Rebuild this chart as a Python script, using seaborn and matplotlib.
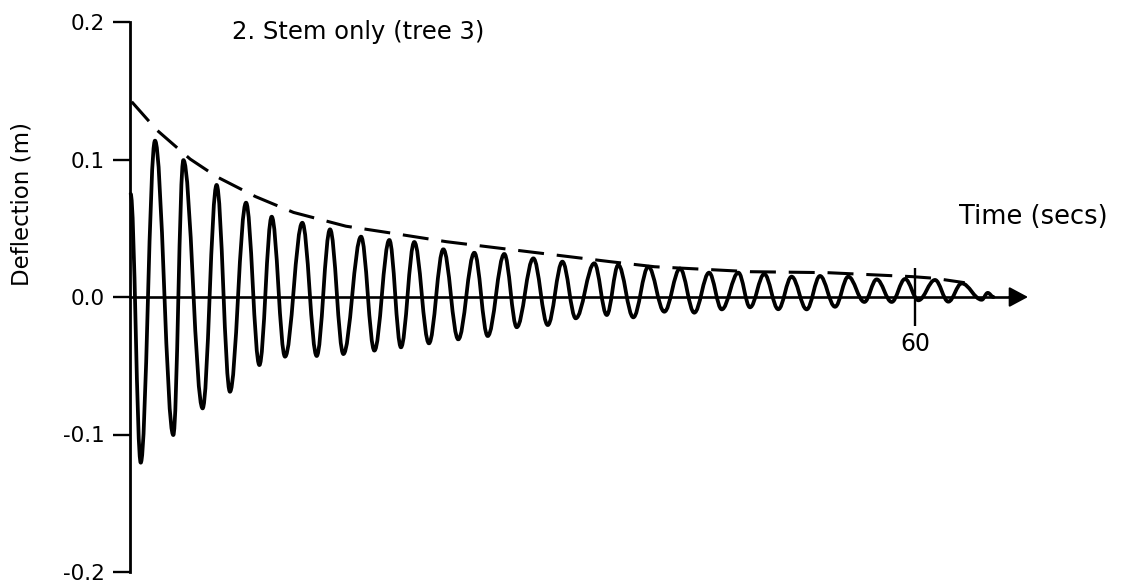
import matplotlib
matplotlib.use("Agg")
import numpy as np
import pandas as pd
import matplotlib.pyplot as plt
import seaborn as sns
from matplotlib.path import Path
from matplotlib.patches import PathPatch

# Free-vibration record: successive turning points of the stem deflection
ext_time = [0.05, 0.82, 1.91, 3.31, 4.08, 5.55, 6.62, 7.64, 8.87, 9.89, 10.83,
            11.85, 13.17, 14.27, 15.29, 16.31, 17.66, 18.68, 19.82, 20.71,
            21.73, 22.85, 23.95, 25.09, 26.32, 27.34, 28.61, 29.56, 30.83,
            31.93, 33.05, 34.07, 35.49, 36.44, 37.32, 38.47, 39.62, 40.84,
            42.04, 43.13, 44.26, 45.23, 46.5, 47.39, 48.48, 49.55, 50.57,
            51.72, 52.74, 53.89, 54.9, 56.13, 57.07, 58.22, 59.24, 60.26,
            61.53, 62.55, 63.57, 65.1, 65.56, 66.0]
ext_defl = [0.075, -0.1205, 0.1137, -0.1004, 0.0996, -0.081, 0.0815, -0.0689,
            0.0686, -0.0495, 0.0584, -0.0434, 0.054, -0.0429, 0.0492, -0.0415,
            0.0439, -0.039, 0.0415, -0.0366, 0.04, -0.0337, 0.0347, -0.0308,
            0.0322, -0.0284, 0.0313, -0.022, 0.0281, -0.0204, 0.0257, -0.0155,
            0.0245, -0.0131, 0.0233, -0.0148, 0.022, -0.0107, 0.0207, -0.0114,
            0.0177, -0.009, 0.0177, -0.0075, 0.0167, -0.0089, 0.0148, -0.009,
            0.0153, -0.0071, 0.0148, -0.0036, 0.0128, -0.0036, 0.0131, -0.0024,
            0.0124, -0.0034, 0.0099, -0.002, 0.003, 0.0]

# Decay envelope (dashed)
env_time = [0.13, 2.04, 4.6, 6.62, 9.6, 12.5, 16.5, 20.1, 24.2, 29.8, 36.7,
            40.1, 47.4, 53.3, 59.8, 61.5, 63.8]
env_defl = [0.142, 0.1215, 0.1003, 0.0875, 0.073, 0.0615, 0.0515, 0.0463,
            0.0402, 0.0337, 0.0257, 0.022, 0.0184, 0.0177, 0.0148, 0.0136,
            0.0104]

y_ticks = [0.2, 0.1, 0.0, -0.1, -0.2]
y_tick_labels = ["0.2", "0.1", "0.0", "-0.1", "-0.2"]
x_ticks = [60]
x_tick_labels = ["60"]

title_text = "2. Stem only (tree 3)"
x_label = "Time (secs)"
y_label = "Deflection (m)"

sns.set_style("ticks")
plt.rcParams["font.family"] = ["DejaVu Sans"]

W, H = 1145, 583
fig = plt.figure(figsize=(W / 100, H / 100), dpi=100)
ax = fig.add_axes([0, 0, 1, 1])
ax.patch.set_alpha(0)
ax.set_xlim(-9.937, 77.58)
ax.set_ylim(-0.208, 0.216)

# Envelope
env = pd.DataFrame({"time": env_time, "defl": env_defl})
sns.lineplot(data=env, x="time", y="defl", ax=ax, color="black",
             linewidth=2.2, sort=False)
ax.lines[-1].set_dashes((8.5, 4.2))

# Oscillation: smooth half-waves joining consecutive turning points
k = 0.37
verts = [(ext_time[0], ext_defl[0])]
codes = [Path.MOVETO]
for i in range(len(ext_time) - 1):
    t0, v0 = ext_time[i], ext_defl[i]
    t1, v1 = ext_time[i + 1], ext_defl[i + 1]
    dt = t1 - t0
    verts += [(t0 + k * dt, v0), (t1 - k * dt, v1), (t1, v1)]
    codes += [Path.CURVE4] * 3
ax.add_patch(PathPatch(Path(verts, codes), fill=False, edgecolor="black",
                       linewidth=2.7, joinstyle="round", capstyle="round"))

# Axes drawn through the origin
for s in ("top", "right"):
    ax.spines[s].set_visible(False)
ax.spines["left"].set_position(("data", 0))
ax.spines["left"].set_bounds(-0.2, 0.2)
ax.spines["left"].set_linewidth(2.0)
ax.spines["bottom"].set_position(("data", 0))
ax.spines["bottom"].set_bounds(0, 67.4)
ax.spines["bottom"].set_linewidth(1.9)
for s in ("left", "bottom"):
    ax.spines[s].set_color("black")

ax.set_yticks(y_ticks)
ax.set_yticklabels(y_tick_labels)
ax.set_xticks(x_ticks)
ax.set_xticklabels(x_tick_labels)
ax.tick_params(axis="y", direction="out", length=12, width=1.7, pad=6,
               labelsize=15.5, left=True, colors="black")
ax.tick_params(axis="x", direction="inout", length=42, width=1.7, pad=4,
               labelsize=17, bottom=True, colors="black")
ax.set_xlabel("")
ax.set_ylabel("")

# Arrow head on the time axis
ax.annotate("", xy=(68.64, 0), xytext=(67.2, 0),
            arrowprops=dict(arrowstyle="-|>,head_length=0.58,head_width=0.31",
                            mutation_scale=20, color="black", lw=1.5,
                            shrinkA=0, shrinkB=0))

fig.text(232 / W, 1 - 32 / H, title_text, ha="left", va="center",
         fontsize=17.5, color="black")
fig.text(1033 / W, 1 - 217 / H, x_label, ha="center", va="center",
         fontsize=18.5, color="black")
fig.text(22 / W, 1 - 204 / H, y_label, ha="center", va="center",
         rotation=90, fontsize=16.5, color="black")

fig.savefig("out.png", dpi=100)
